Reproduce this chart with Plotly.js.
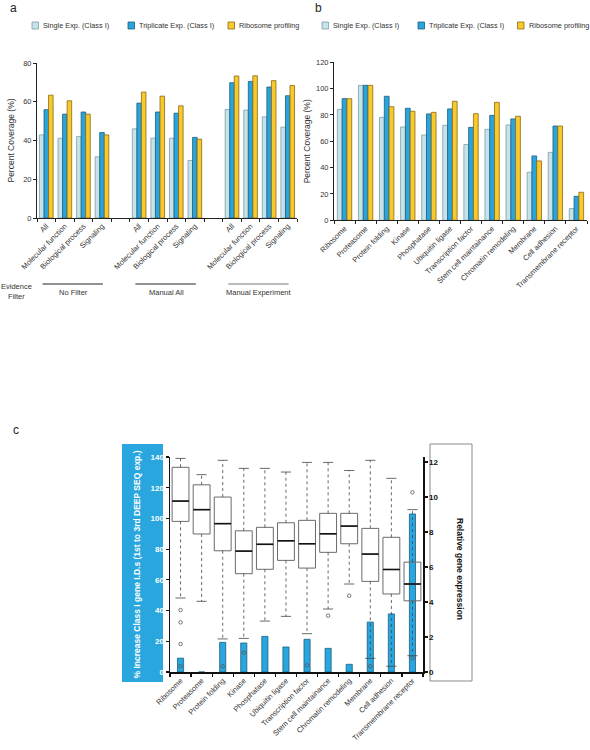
<!DOCTYPE html>
<html><head><meta charset="utf-8">
<script src="https://cdn.plot.ly/plotly-3.0.1.min.js"></script>
<style>html,body{margin:0;padding:0;background:#fff}#chart{width:590px;height:750px}</style>
</head><body><div id="chart"></div>
<script>
// ---------- DATA ----------
const seriesNames = ['Single Exp. (Class I)', 'Triplicate Exp. (Class I)', 'Ribosome profiling'];

// panel a
const groupsA = ['No Filter', 'Manual All', 'Manual Experiment'];
const catsA = ['All', 'Molecular function', 'Biological process', 'Signaling'];
const singleA = [42.9, 41.2, 42.1, 31.6, 46.0, 41.2, 41.2, 29.7, 56.0, 55.7, 52.2, 46.9];
const tripA   = [55.9, 53.6, 54.7, 44.1, 59.3, 54.7, 54.1, 41.6, 69.8, 70.5, 67.6, 63.1];
const riboA   = [63.4, 60.5, 53.6, 42.9, 65.0, 62.9, 57.9, 40.7, 73.3, 73.4, 70.9, 68.4];
const yTicksA = [0, 20, 40, 60, 80];

// panel b
const catsB = ['Ribosome', 'Proteasome', 'Protein folding', 'Kinase', 'Phosphatase', 'Ubiquitin ligase',
  'Transcription factor', 'Stem cell maintainance', 'Chromatin remodeling', 'Membrane', 'Cell adhesion',
  'Transmembrane receptor'];
const singleB = [84.3, 102.5, 78.2, 70.9, 64.8, 72.2, 57.5, 69.1, 72.4, 36.5, 51.6, 8.9];
const tripB   = [92.4, 102.5, 94.2, 85.1, 80.8, 84.6, 70.6, 79.7, 77.0, 48.9, 71.6, 18.2];
const riboB   = [92.4, 102.5, 86.3, 82.8, 82.0, 90.4, 81.0, 89.6, 79.0, 45.1, 71.6, 21.3];
const yTicksB = [0, 20, 40, 60, 80, 100, 120];

// panel c
const catsC = ['Ribosome', 'Proteasome', 'Protein folding', 'Kinase', 'Phosphatase', 'Ubiquitin ligase',
  'Transcription factor', 'Stem cell maintainance', 'Chromatin remodeling', 'Membrane', 'Cell adhesion',
  'Transmembrane receptor'];
const increaseC = [9.0, 0, 19.3, 18.9, 23.2, 16.3, 21.3, 15.4, 5.0, 32.5, 37.8, 102.9];
const upperC  = [12.21, 11.28, 12.10, 11.64, 11.64, 11.43, 11.98, 11.98, 11.52, 12.10, 11.07, 9.28];
const q3C     = [11.70, 10.70, 10.00, 8.07, 8.27, 8.53, 8.67, 9.07, 9.07, 8.21, 7.70, 6.28];
const medianC = [9.77, 9.28, 8.48, 6.91, 7.30, 7.50, 7.33, 7.90, 8.34, 6.74, 5.86, 5.03];
const q1C     = [8.61, 7.89, 6.93, 5.62, 5.87, 6.38, 5.94, 6.84, 7.33, 5.18, 4.46, 4.07];
const lowerC  = [4.23, 4.04, 1.89, 1.92, 2.91, 3.18, 2.19, 3.60, 5.03, 0.78, 0.33, 0.93];
const outlierCat = ['Ribosome', 'Ribosome', 'Ribosome', 'Ribosome', 'Protein folding', 'Kinase',
  'Transcription factor', 'Stem cell maintainance', 'Chromatin remodeling', 'Membrane',
  'Transmembrane receptor', 'Transmembrane receptor'];
const outlierVal = [3.54, 2.84, 1.60, 0.33, 0.33, 1.10, 0.38, 3.22, 4.36, 0.33, 10.27, 0.80];
const yTicksCLeft = [0, 20, 40, 60, 80, 100, 120, 140];
const yTicksCRight = [0, 2, 4, 6, 8, 10, 12];

// ---------- STYLE ----------
const W = 590, H = 750;
const px = v => v / W, py = v => 1 - v / H;
const FONT = '"Liberation Sans", Arial, Helvetica, sans-serif';
const fills = ['#c6e3e9', '#2aa4dc', '#f8c92d'];
const lines = ['#7f9da3', '#1c5d7d', '#8a6a14'];
const TXT = '#333';

// ---------- TRACES ----------
const traces = [];
const xA = [];
groupsA.forEach((g, gi) => catsA.forEach((c, ci) => xA.push(gi * 5 + ci)));
const labelsA = groupsA.flatMap(() => catsA);
const xB = catsB.map((c, i) => i);
const xC = catsC.map((c, i) => i);

function bars(x, y, k, xa, ya, bw) {
  return {type: 'bar', x: x, y: y, xaxis: xa, yaxis: ya, name: seriesNames[k], showlegend: false,
    width: bw, offset: (k - 1.5) * bw,
    marker: {color: fills[k], line: {color: lines[k], width: 0.8}}};
}
[singleA, tripA, riboA].forEach((s, k) => traces.push(bars(xA, s, k, 'x', 'y', 0.245)));
[singleB, tripB, riboB].forEach((s, k) => traces.push(bars(xB, s, k, 'x2', 'y2', 0.227)));

// panel c bars (left axis)
traces.push({type: 'bar', x: xC, y: increaseC, xaxis: 'x3', yaxis: 'y3', width: 0.29, showlegend: false,
  name: '% increase', marker: {color: '#29a6de', line: {color: '#1b5f80', width: 0.8}}});

// panel c boxes (right axis)
traces.push({type: 'box', x: xC, q1: q1C, median: medianC, q3: q3C, lowerfence: q1C, upperfence: q3C,
  xaxis: 'x3', yaxis: 'y4', width: 0.8, whiskerwidth: 0, boxpoints: false, showlegend: false,
  line: {color: '#6a6a6a', width: 1}, fillcolor: 'rgba(0,0,0,0)', name: 'expression'});

const wx = [], wy = [], cx = [], cy = [], mx = [], my = [];
xC.forEach(i => {
  wx.push(i, i, null, i, i, null); wy.push(q3C[i], upperC[i], null, q1C[i], lowerC[i], null);
  cx.push(i - 0.24, i + 0.24, null, i - 0.24, i + 0.24, null);
  cy.push(upperC[i], upperC[i], null, lowerC[i], lowerC[i], null);
  mx.push(i - 0.4, i + 0.4, null); my.push(medianC[i], medianC[i], null);
});
traces.push({type: 'scatter', mode: 'lines', x: wx, y: wy, xaxis: 'x3', yaxis: 'y4', showlegend: false,
  line: {color: '#444', width: 0.8, dash: 'dot'}, hoverinfo: 'skip'});
traces.push({type: 'scatter', mode: 'lines', x: cx, y: cy, xaxis: 'x3', yaxis: 'y4', showlegend: false,
  line: {color: '#444', width: 0.8}, hoverinfo: 'skip'});
traces.push({type: 'scatter', mode: 'lines', x: mx, y: my, xaxis: 'x3', yaxis: 'y4', showlegend: false,
  line: {color: '#111', width: 1.6}, hoverinfo: 'skip'});
traces.push({type: 'scatter', mode: 'markers', x: outlierCat.map(c => catsC.indexOf(c)), y: outlierVal,
  xaxis: 'x3', yaxis: 'y4', showlegend: false,
  marker: {symbol: 'circle-open', size: 3.5, color: '#555', line: {width: 0.8}}});

// ---------- LAYOUT ----------
const tickFont = {family: FONT, size: 7.5, color: TXT};
const base = {showline: true, linecolor: '#222', linewidth: 1, zeroline: false, showgrid: false,
  tickfont: tickFont, fixedrange: true};
const bounds = n => Array.from({length: n + 1}, (_, i) => i - 0.5);

const layout = {
  width: W, height: H, autosize: false, margin: {l: 0, r: 0, t: 0, b: 0},
  paper_bgcolor: '#fff', plot_bgcolor: 'rgba(0,0,0,0)', barmode: 'overlay', showlegend: false,
  font: {family: FONT, color: TXT},
  xaxis: Object.assign({}, base, {domain: [px(37), px(297)], anchor: 'y', range: [-0.5, 13.5],
    tickmode: 'array', tickvals: xA, ticktext: labelsA, tickangle: -45, ticks: '',
    minor: {tickmode: 'array', tickvals: bounds(14), ticks: 'outside', ticklen: 3, tickcolor: '#222'}}),
  yaxis: Object.assign({}, base, {domain: [py(218), py(63)], anchor: 'x', range: [0, 80],
    tickmode: 'array', tickvals: yTicksA, ticks: 'outside', ticklen: 3, tickcolor: '#222',
    title: {text: 'Percent Coverage (%)', font: {family: FONT, size: 8.5, color: TXT}, standoff: 7}}),
  xaxis2: Object.assign({}, base, {domain: [px(334), px(587)], anchor: 'y2', range: [-0.5, 11.5],
    tickmode: 'array', tickvals: xB, ticktext: catsB, tickangle: -45, ticks: '',
    minor: {tickmode: 'array', tickvals: bounds(12), ticks: 'outside', ticklen: 3, tickcolor: '#222'}}),
  yaxis2: Object.assign({}, base, {domain: [py(220.3), py(62.3)], anchor: 'x2', range: [0, 120],
    tickmode: 'array', tickvals: yTicksB, ticks: 'outside', ticklen: 3, tickcolor: '#222',
    title: {text: 'Percent Coverage (%)', font: {family: FONT, size: 8.5, color: TXT}, standoff: 4}}),
  xaxis3: Object.assign({}, base, {domain: [px(170), px(423)], anchor: 'y3', range: [-0.5, 11.5],
    linewidth: 1.5, linecolor: '#111',
    tickmode: 'array', tickvals: xC, ticktext: catsC, tickangle: -45, ticks: '',
    minor: {tickmode: 'array', tickvals: bounds(12), ticks: 'outside', ticklen: 3, tickcolor: '#111', tickwidth: 1.2}}),
  yaxis3: Object.assign({}, base, {domain: [py(672), py(457)], anchor: 'x3', range: [0, 140],
    linewidth: 1.5, linecolor: '#111',
    tickmode: 'array', tickvals: yTicksCLeft, ticks: 'outside', ticklen: 3, tickcolor: '#111', tickwidth: 1.2,
    tickfont: {family: FONT, size: 8, color: '#fff', weight: 'bold'},
    title: {text: '% Increase Class I gene I.D.s (1st to 3rd DEEP SEQ exp.)',
      font: {family: FONT, size: 8.5, color: '#fff', weight: 'bold'}, standoff: 8}}),
  yaxis4: Object.assign({}, base, {overlaying: 'y3', side: 'right', anchor: 'x3', range: [0, 12.29],
    linewidth: 1.5, linecolor: '#111',
    tickmode: 'array', tickvals: yTicksCRight, ticks: 'outside', ticklen: 3, tickcolor: '#111', tickwidth: 1.2,
    tickfont: {family: FONT, size: 8, color: '#111', weight: 'bold'}}),
  shapes: [], annotations: []
};

// panel c decorative boxes
layout.shapes.push({type: 'rect', xref: 'paper', yref: 'paper', x0: px(122), x1: px(163), y0: py(682), y1: py(444),
  fillcolor: '#29a6de', line: {width: 0}, layer: 'below'});
layout.shapes.push({type: 'rect', xref: 'paper', yref: 'paper', x0: px(430), x1: px(472), y0: py(681), y1: py(444),
  fillcolor: 'rgba(0,0,0,0)', line: {width: 1, color: '#8a8a8a'}, layer: 'below'});
layout.annotations.push({xref: 'paper', yref: 'paper', x: px(460), y: py(569), xanchor: 'center', yanchor: 'middle',
  text: 'Relative gene expression',
  textangle: 90, showarrow: false, font: {family: FONT, size: 8.5, color: '#111', weight: 'bold'}});

// legends (a and b)
[[32, 128, 228], [322, 418, 517.5]].forEach(xs => {
  xs.forEach((x, k) => {
    layout.shapes.push({type: 'rect', xref: 'paper', yref: 'paper', x0: px(x), x1: px(x + 6.5), y0: py(29), y1: py(22),
      fillcolor: fills[k], line: {color: lines[k], width: 0.8}});
    layout.annotations.push({xref: 'paper', yref: 'paper', x: px(x + 9), y: py(25.5), xanchor: 'left', yanchor: 'middle',
      text: seriesNames[k], showarrow: false, font: {family: FONT, size: 7.3, color: TXT}});
  });
});

// panel letters
[['a', 13, 8], ['b', 318, 8], ['c', 16, 430]].forEach(([t, x, y]) => layout.annotations.push({
  xref: 'paper', yref: 'paper', x: px(x), y: py(y), xanchor: 'center', yanchor: 'middle', text: t, showarrow: false,
  font: {family: FONT, size: 12, color: '#222'}}));

// evidence filter groups
layout.annotations.push({xref: 'paper', yref: 'paper', x: px(16), y: py(291), xanchor: 'center', yanchor: 'middle',
  text: 'Evidence<br>Filter', showarrow: false, font: {family: FONT, size: 7.5, color: TXT}});
groupsA.forEach((g, gi) => {
  layout.shapes.push({type: 'line', xref: 'x', yref: 'paper', x0: gi * 5 - 0.2, x1: gi * 5 + 3.05, y0: py(284), y1: py(284),
    line: {color: gi === 2 ? '#777' : '#222', width: 1}});
  layout.annotations.push({xref: 'x', yref: 'paper', x: gi * 5 + 1.45, y: py(292.5), xanchor: 'center', yanchor: 'middle',
    text: g, showarrow: false, font: {family: FONT, size: 7.5, color: TXT}});
});

Plotly.newPlot('chart', traces, layout, {displayModeBar: false, staticPlot: true});
</script>
</body></html>
